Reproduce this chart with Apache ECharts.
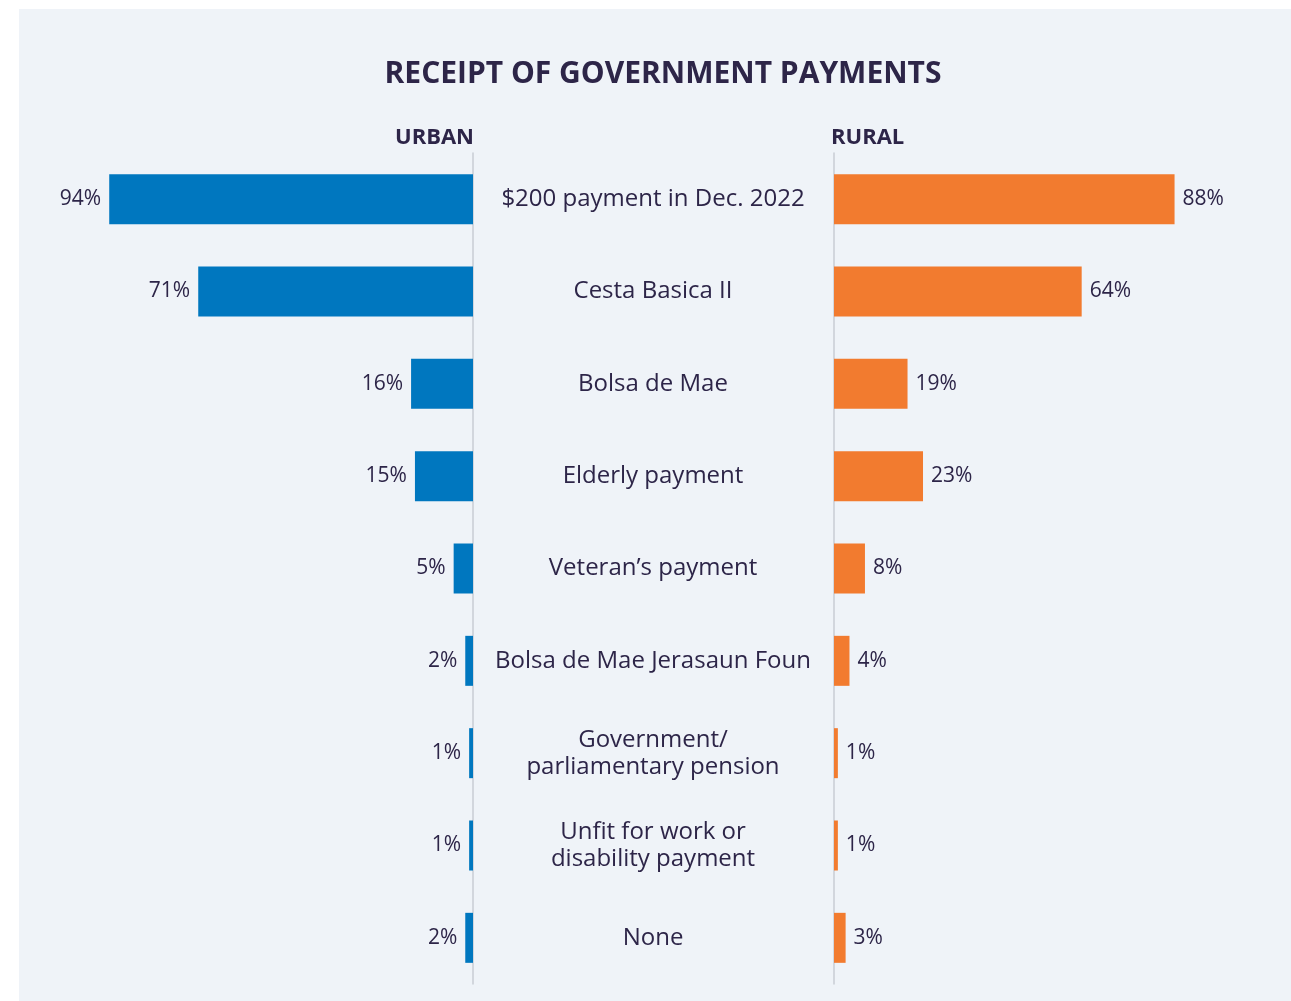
<!DOCTYPE html>
<html>
<head>
<meta charset="utf-8">
<script src="https://cdn.jsdelivr.net/npm/echarts@6/dist/echarts.min.js"></script>
<style>
  html, body { margin: 0; padding: 0; background: #ffffff; }
  #panel { position: absolute; left: 19px; top: 9px; width: 1272px; height: 992px; background: #eff3f8; }
  #chart { position: absolute; left: 0; top: 0; width: 1291px; height: 1001px; }
</style>
</head>
<body>
<div id="panel"></div>
<div id="chart"></div>
<script>
// Payment types, top to bottom
const categories = [
  '$200 payment in Dec. 2022',
  'Cesta Basica II',
  'Bolsa de Mae',
  'Elderly payment',
  'Veteran\u2019s payment',
  'Bolsa de Mae Jerasaun Foun',
  'Government/\nparliamentary pension',
  'Unfit for work or\ndisability payment',
  'None'
];
// Share of respondents receiving each payment (%)
const urbanValues = [94, 71, 16, 15, 5, 2, 1, 1, 2];
const ruralValues = [88, 64, 19, 23, 8, 4, 1, 1, 3];

const TEXT = '#2d2548';
const FONT = '"Open Sans", "Noto Sans", sans-serif';
const AXIS_LINE = { show: true, lineStyle: { color: '#c9cdd4', width: 1.5 } };

const chart = echarts.init(document.getElementById('chart'), null, { renderer: 'canvas' });

chart.setOption({
  backgroundColor: 'transparent',
  animation: false,
  textStyle: { fontFamily: FONT },
  graphic: [
    {
      type: 'text', x: 663, y: 74,
      style: {
        text: 'RECEIPT OF GOVERNMENT PAYMENTS', font: 'bold 30px ' + FONT, fill: TEXT,
        align: 'center', verticalAlign: 'middle'
      }
    },
    {
      type: 'text', x: 474, y: 138,
      style: { text: 'URBAN', font: 'bold 22px ' + FONT, fill: TEXT, align: 'right', verticalAlign: 'middle' }
    },
    {
      type: 'text', x: 831, y: 138,
      style: { text: 'RURAL', font: 'bold 22px ' + FONT, fill: TEXT, align: 'left', verticalAlign: 'middle' }
    }
  ],
  grid: [
    { left: 86, width: 387, top: 153, height: 831 },
    { left: 834, width: 387, top: 153, height: 831 }
  ],
  xAxis: [
    { gridIndex: 0, type: 'value', min: 0, max: 100, inverse: true, show: false },
    { gridIndex: 1, type: 'value', min: 0, max: 100, show: false }
  ],
  yAxis: [
    {
      gridIndex: 0, type: 'category', data: categories, inverse: true, position: 'right',
      axisLine: AXIS_LINE, axisTick: { show: false }, splitLine: { show: false },
      axisLabel: {
        margin: 180, align: 'center', color: TEXT, fontSize: 24, lineHeight: 27,
        fontFamily: FONT, fontWeight: 500
      }
    },
    {
      gridIndex: 1, type: 'category', data: categories, inverse: true, position: 'left',
      axisLine: AXIS_LINE, axisTick: { show: false }, axisLabel: { show: false },
      splitLine: { show: false }
    }
  ],
  series: [
    {
      name: 'Urban', type: 'bar', xAxisIndex: 0, yAxisIndex: 0, data: urbanValues,
      barWidth: 50, itemStyle: { color: '#0077bf' },
      label: {
        show: true, position: 'left', distance: 8, formatter: '{c}%',
        color: TEXT, fontSize: 21, fontWeight: 500, fontFamily: FONT
      }
    },
    {
      name: 'Rural', type: 'bar', xAxisIndex: 1, yAxisIndex: 1, data: ruralValues,
      barWidth: 50, itemStyle: { color: '#f27b2f' },
      label: {
        show: true, position: 'right', distance: 8, formatter: '{c}%',
        color: TEXT, fontSize: 21, fontWeight: 500, fontFamily: FONT
      }
    }
  ]
});
</script>
</body>
</html>
